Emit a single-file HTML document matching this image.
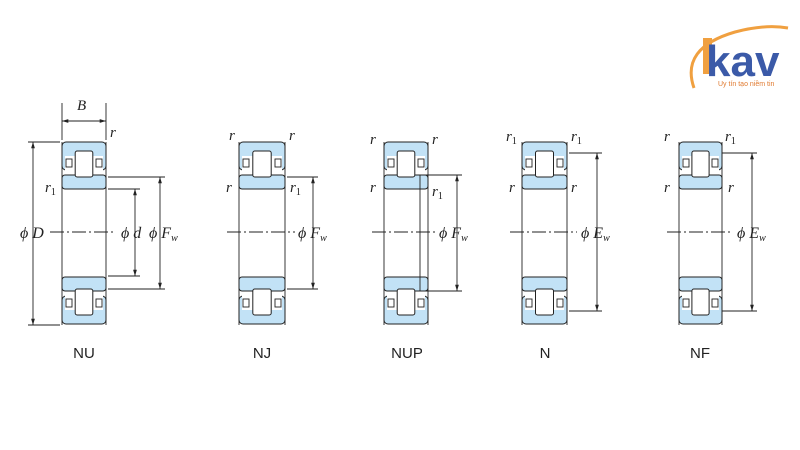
<!DOCTYPE html>
<html><head><meta charset="utf-8"><style>
html,body{margin:0;padding:0;background:#fff;width:800px;height:450px;overflow:hidden}
svg text{font-family:"Liberation Serif",serif;font-style:italic;fill:#222}
svg text.lb{font-family:"Liberation Sans",sans-serif;font-style:normal;font-size:15px}
</style></head><body>
<svg id="s" width="800" height="450" viewBox="0 0 800 450" xmlns="http://www.w3.org/2000/svg">
<defs>
<marker id="a" viewBox="0 0 10 10" refX="10" refY="5" markerWidth="7" markerHeight="7" orient="auto-start-reverse"><path d="M0,2 L10,5 L0,8 z" fill="#222"/></marker>
</defs>
<g id="g"></g>
<!-- logo -->
<path d="M694 88 Q680 48 735 32 Q765 24 788 28" fill="none" stroke="#f0a040" stroke-width="3"/>
<rect x="703" y="38" width="9" height="36" fill="#f0a040"/>
<text x="706" y="76" style="font-family:'Liberation Sans',sans-serif;font-style:normal;font-weight:bold;font-size:44px;fill:#3b5aa8">kav</text>
<text x="718" y="86" style="font-family:'Liberation Sans',sans-serif;font-style:normal;font-size:7px;fill:#e07a30">Uy tín tạo niềm tin</text>
<!-- labels -->
<text class="lb" x="84" y="358" text-anchor="middle">NU</text>
<text class="lb" x="262" y="358" text-anchor="middle">NJ</text>
<text class="lb" x="407" y="358" text-anchor="middle">NUP</text>
<text class="lb" x="545" y="358" text-anchor="middle">N</text>
<text class="lb" x="700" y="358" text-anchor="middle">NF</text>
<!-- NU -->
<text x="77" y="110" font-size="15">B</text>
<text x="110" y="137" font-size="15">r</text>
<text x="45" y="192" font-size="15">r<tspan font-size="10" dy="3" font-style="normal">1</tspan></text>
<text x="20" y="238" font-size="16">ϕ D</text>
<text x="121" y="238" font-size="16">ϕ d</text>
<text x="149" y="238" font-size="16">ϕ F<tspan font-size="10" dy="3">w</tspan></text>
<!-- NJ -->
<text x="229" y="140" font-size="15">r</text><text x="289" y="140" font-size="15">r</text>
<text x="226" y="192" font-size="15">r</text>
<text x="290" y="192" font-size="15">r<tspan font-size="10" dy="3" font-style="normal">1</tspan></text>
<text x="298" y="238" font-size="16">ϕ F<tspan font-size="10" dy="3">w</tspan></text>
<!-- NUP -->
<text x="370" y="144" font-size="15">r</text><text x="432" y="144" font-size="15">r</text>
<text x="370" y="192" font-size="15">r</text>
<text x="432" y="196" font-size="15">r<tspan font-size="10" dy="3" font-style="normal">1</tspan></text>
<text x="439" y="238" font-size="16">ϕ F<tspan font-size="10" dy="3">w</tspan></text>
<!-- N -->
<text x="506" y="141" font-size="15">r<tspan font-size="10" dy="3" font-style="normal">1</tspan></text>
<text x="571" y="141" font-size="15">r<tspan font-size="10" dy="3" font-style="normal">1</tspan></text>
<text x="509" y="192" font-size="15">r</text><text x="571" y="192" font-size="15">r</text>
<text x="581" y="238" font-size="16">ϕ E<tspan font-size="10" dy="3">w</tspan></text>
<!-- NF -->
<text x="664" y="141" font-size="15">r</text>
<text x="725" y="141" font-size="15">r<tspan font-size="10" dy="3" font-style="normal">1</tspan></text>
<text x="664" y="192" font-size="15">r</text><text x="728" y="192" font-size="15">r</text>
<text x="737" y="238" font-size="16">ϕ E<tspan font-size="10" dy="3">w</tspan></text>
</svg>
<script>
var g=document.getElementById('g'),h='';
function L(x1,y1,x2,y2,extra){h+='<line x1="'+x1+'" y1="'+y1+'" x2="'+x2+'" y2="'+y2+'" stroke="#222" stroke-width="0.9" '+(extra||'')+'/>';}
function A(x,y1,y2){L(x,y1,x,y2,'marker-start="url(#a)" marker-end="url(#a)"');}
function half(x0,x1){
 var s='';
 var w=x1-x0;
 s+='<rect x="'+x0+'" y="142" width="'+w+'" height="28" rx="4" fill="#c2e2f6" stroke="#222" stroke-width="1"/>';
 s+='<rect x="'+x0+'" y="175" width="'+w+'" height="14" rx="3" fill="#c2e2f6" stroke="#222" stroke-width="1"/>';
 var rx0=x0+w*0.3,rw=w*0.4;
 s+='<rect x="'+(x0+3)+'" y="156" width="'+(w-6)+'" height="16" fill="#fff" stroke="none"/>';
 s+='<rect x="'+(x0+4)+'" y="159" width="6" height="8" fill="#fff" stroke="#222" stroke-width="0.9"/>';
 s+='<rect x="'+(x1-10)+'" y="159" width="6" height="8" fill="#fff" stroke="#222" stroke-width="0.9"/>';
 s+='<rect x="'+rx0+'" y="151" width="'+rw+'" height="26" rx="2" fill="#fff" stroke="#222" stroke-width="1"/>';
 return s;
}
function bearing(x0,x1){
 h+=half(x0,x1);
 h+='<g transform="translate(0,466) scale(1,-1)">'+half(x0,x1)+'</g>';
 L(x0,142,x0,325);L(x1,142,x1,325);
 L(x0-12,232,x1+10,232,'stroke-dasharray="14,3,2,3"');
}
bearing(62,106);bearing(239,285);bearing(384,428);bearing(522,567);bearing(679,722);
// NU dims
L(62,103,62,140);L(106,103,106,140);L(62,121,106,121,'marker-start="url(#a)" marker-end="url(#a)"');
L(28,142,60,142);L(28,325,60,325);A(33,142,325);
L(108,189,140,189);L(108,276,140,276);A(135,189,276);
L(108,177,165,177);L(108,289,165,289);A(160,177,289);
// NJ
L(287,177,318,177);L(287,289,318,289);A(313,177,289);
// NUP
L(420,175,462,175);L(420,291,462,291);A(457,175,291);L(420,175,420,291);
// N
L(569,153,602,153);L(569,311,602,311);A(597,153,311);
// NF
L(722,153,757,153);L(722,311,757,311);A(752,153,311);
g.innerHTML=h;
</script>
</body></html>
